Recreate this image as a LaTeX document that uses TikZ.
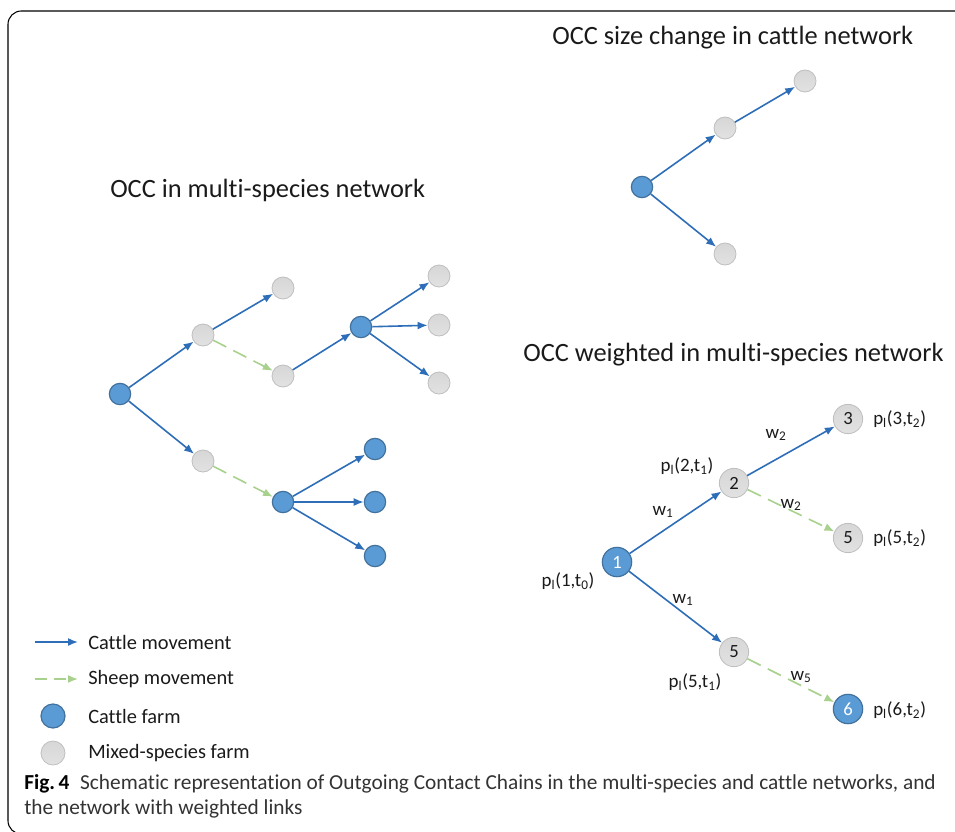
\documentclass[tikz,border=0pt]{standalone}
\usepackage{fontspec}
\setmainfont{Carlito}[Ligatures=NoCommon]
\usetikzlibrary{arrows.meta}
\definecolor{cblue}{HTML}{5B9BD5}
\definecolor{cborder}{HTML}{41719C}
\definecolor{arrblue}{HTML}{2E6EB8}
\definecolor{cgray}{HTML}{CDCDCD}
\definecolor{gborder}{HTML}{BFBFBF}
\definecolor{sgreen}{HTML}{A9D18E}
\definecolor{txt}{HTML}{1A1A1A}
\definecolor{captxt}{HTML}{333333}
\tikzset{
  cattlefarm/.style={circle, fill=cblue, draw=cborder, line width=0.9pt, minimum size=16pt, inner sep=0pt},
  mixedfarm/.style={circle, top color=cgray!80, bottom color=cgray!110!black, draw=gborder, line width=0.6pt, minimum size=16.5pt, inner sep=0pt},
  bigcattle/.style={cattlefarm, minimum size=22pt, text=white, font=\fontsize{14}{16}\selectfont},
  bigmixed/.style={mixedfarm, minimum size=22pt, text=txt, font=\fontsize{14}{16}\selectfont},
  cattlemove/.style={draw=arrblue, line width=1.2pt, -{Latex[length=7.5pt,width=6pt]}},
  sheepmove/.style={draw=sgreen, line width=1.2pt, dash pattern=on 11pt off 6pt, -{Latex[length=7.5pt,width=6pt]}},
  title/.style={font=\fontsize{19.8}{22}\selectfont, text=txt, inner sep=0pt},
  lbl/.style={font=\fontsize{14.2}{16}\selectfont, text=txt, inner sep=0pt},
  leg/.style={font=\fontsize{15.3}{17}\selectfont, text=txt, inner sep=0pt, anchor=west},
  captionline/.style={anchor=west, inner sep=0pt, font=\fontsize{16}{18}\selectfont, text=captxt},
}
\newcommand{\pl}[2]{p\textsubscript{l}(#1,t\textsubscript{#2})}
\begin{document}
\begin{tikzpicture}[x=0.75pt, y=-0.75pt]
\useasboundingbox (0,0) rectangle (955,831);
\begin{scope}
\clip (0,0) rectangle (955,831);
\draw[line width=0.8pt, rounded corners=10pt] (980,11) -- (8,11) -- (8,834) -- (980,834);
\end{scope}

% ---- multi-species network
\node[title, anchor=west] (t1) at (110,190) {OCC in multi-species network};
\node[cattlefarm] (a) at (120,394) {};
\node[mixedfarm] (b1) at (203,335) {};
\node[mixedfarm] (b2) at (203,461) {};
\node[mixedfarm] (c1) at (283,288) {};
\node[mixedfarm] (c2) at (283,376) {};
\node[cattlefarm] (d) at (361,327) {};
\node[mixedfarm] (e1) at (439,276) {};
\node[mixedfarm] (e2) at (439,325) {};
\node[mixedfarm] (e3) at (439,383) {};
\node[cattlefarm] (f) at (283,502) {};
\node[cattlefarm] (g1) at (375,449) {};
\node[cattlefarm] (g2) at (375,502) {};
\node[cattlefarm] (g3) at (375,556) {};
\draw[cattlemove] (a) -- (b1);
\draw[cattlemove] (a) -- (b2);
\draw[cattlemove] (b1) -- (c1);
\draw[sheepmove] (b1) -- (c2);
\draw[cattlemove] (c2) -- (d);
\draw[cattlemove] (d) -- (e1);
\draw[cattlemove] (d) -- (e2);
\draw[cattlemove] (d) -- (e3);
\draw[sheepmove] (b2) -- (f);
\draw[cattlemove] (f) -- (g1);
\draw[cattlemove] (f) -- (g2);
\draw[cattlemove] (f) -- (g3);

% ---- cattle network
\node[title, anchor=west] (t2) at (552,38) {OCC size change in cattle network};
\node[cattlefarm] (h) at (642,187) {};
\node[mixedfarm] (i1) at (725,128) {};
\node[mixedfarm] (i2) at (805,81) {};
\node[mixedfarm] (i3) at (725,254) {};
\draw[cattlemove] (h) -- (i1);
\draw[cattlemove] (i1) -- (i2);
\draw[cattlemove] (h) -- (i3);

% ---- weighted network
\node[title, anchor=west] (t3) at (523,355) {OCC weighted in multi-species network};
\node[bigcattle] (n1) at (617,562) {1};
\node[bigmixed] (n2) at (734,483) {2};
\node[bigmixed] (n3) at (848,419) {3};
\node[bigmixed] (n5a) at (848,538) {5};
\node[bigmixed] (n5b) at (734,652) {5};
\node[bigcattle] (n6) at (848,709) {6};
\draw[cattlemove] (n1) -- (n2);
\draw[cattlemove] (n2) -- (n3);
\draw[sheepmove] (n2) -- (n5a);
\draw[cattlemove] (n1) -- (n5b);
\draw[sheepmove] (n5b) -- (n6);
\node[lbl, anchor=west] (l3) at (873,419) {\pl{3}{2}};
\node[lbl, anchor=west] (l5a) at (873,538) {\pl{5}{2}};
\node[lbl, anchor=west] (l6) at (873,710) {\pl{6}{2}};
\node[lbl] (l2) at (687,466) {\pl{2}{1}};
\node[lbl] (l1) at (568,581) {\pl{1}{0}};
\node[lbl] (l5b) at (695,682) {\pl{5}{1}};
\node[lbl] (w2a) at (776,435) {w\textsubscript{2}};
\node[lbl] (w1a) at (663,512) {w\textsubscript{1}};
\node[lbl] (w2b) at (791,505) {w\textsubscript{2}};
\node[lbl] (w1b) at (683,600) {w\textsubscript{1}};
\node[lbl] (w5) at (801,677) {w\textsubscript{5}};

% ---- legend
\coordinate (ca) at (35,642);
\coordinate (cb) at (78,642);
\draw[cattlemove] (ca) -- (cb);
\node[leg] (lc) at (88,642) {Cattle movement};
\coordinate (sa) at (35,679);
\coordinate (sb) at (78,679);
\draw[sheepmove, dash pattern=on 9pt off 5pt] (sa) -- (sb);
\node[leg] (ls) at (88,679) {Sheep movement};
\node[cattlefarm, minimum size=18pt] (lcf) at (53,716) {};
\node[leg] (lct) at (88,716) {Cattle farm};
\node[mixedfarm, minimum size=18pt] (lmf) at (53,753) {};
\node[leg] (lmt) at (88,753) {Mixed-species farm};

% ---- caption
\node[captionline] (cap1) at (24,784) {\textcolor{black}{\textbf{Fig.\,4}}\enspace Schematic representation of Outgoing Contact Chains in the multi-species and cattle networks, and};
\node[captionline] (cap2) at (24,809) {the network with weighted links};
\end{tikzpicture}
\end{document}
